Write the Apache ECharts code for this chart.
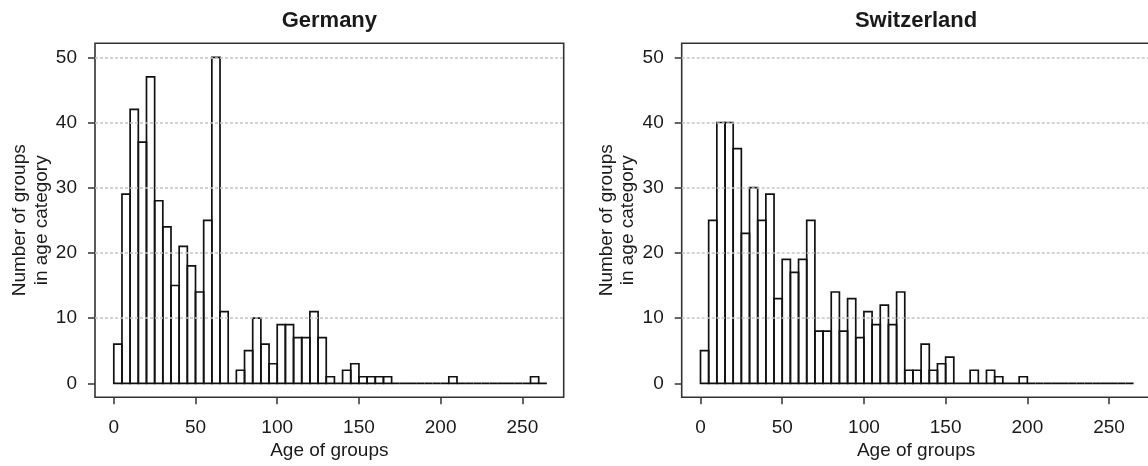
<!DOCTYPE html>
<html>
<head>
<meta charset="utf-8">
<title>Age of groups – Germany and Switzerland</title>
<script src="https://cdn.jsdelivr.net/npm/echarts@6/dist/echarts.min.js"></script>
<style>
  html, body { margin: 0; padding: 0; background: #ffffff; }
  #chart { width: 1148px; height: 466px; }
</style>
</head>
<body>
<div id="chart"></div>
<script>
// Histogram bins: each bin covers [start, start + 5) years
const binStarts = [
  0, 5, 10, 15, 20, 25, 30, 35, 40, 45, 50, 55, 60, 65, 70, 75, 80, 85, 90, 95,
  100, 105, 110, 115, 120, 125, 130, 135, 140, 145, 150, 155, 160, 165, 170, 175,
  180, 185, 190, 195, 200, 205, 210, 215, 220, 225, 230, 235, 240, 245, 250, 255, 260
];
const binWidth = 5;

// Number of groups in each age bin
const germanyCounts = [
  6, 29, 42, 37, 47, 28, 24, 15, 21, 18, 14, 25, 50, 11, 0, 2, 5, 10, 6, 3,
  9, 9, 7, 7, 11, 7, 1, 0, 2, 3, 1, 1, 1, 1, 0, 0,
  0, 0, 0, 0, 0, 1, 0, 0, 0, 0, 0, 0, 0, 0, 0, 1, 0
];
const switzerlandCounts = [
  5, 25, 40, 40, 36, 23, 30, 25, 29, 13, 19, 17, 19, 25, 8, 8, 14, 8, 13, 7,
  11, 9, 12, 9, 14, 2, 2, 6, 2, 3, 4, 0, 0, 2, 0, 2,
  1, 0, 0, 1, 0, 0, 0, 0, 0, 0, 0, 0, 0, 0, 0, 0, 0
];

// Axis tick labels
const xTicks = [0, 50, 100, 150, 200, 250];
const yTicks = [0, 10, 20, 30, 40, 50];
const gridLevels = [10, 20, 30, 40, 50];

const panelTitles = ['Germany', 'Switzerland'];
const xAxisTitle = 'Age of groups';
const yAxisTitle = ['Number of groups', 'in age category'];

const FONT = "'Liberation Sans', Arial, sans-serif";
const TEXT = '#1a1a1a';
const FRAME = '#333333';

const panels = [
  { left: 95, counts: germanyCounts },
  { left: 681.7, counts: switzerlandCounts }
];
const plotTop = 43.3;
const plotWidth = 468.7;
const plotHeight = 354;

function histData(counts) {
  return binStarts.map((s, i) => [s, s + binWidth, counts[i]]);
}

function renderBin(params, api) {
  const start = api.value(0);
  const end = api.value(1);
  const count = api.value(2);
  const topLeft = api.coord([start, count]);
  const bottomRight = api.coord([end, 0]);
  return {
    type: 'rect',
    shape: {
      x: topLeft[0],
      y: topLeft[1],
      width: bottomRight[0] - topLeft[0],
      height: bottomRight[1] - topLeft[1]
    },
    style: { fill: 'rgba(0,0,0,0)', stroke: '#111111', lineWidth: 1.7 }
  };
}

const grids = panels.map(p => ({
  left: p.left,
  top: plotTop,
  width: plotWidth,
  height: plotHeight,
  show: true,
  borderColor: FRAME,
  borderWidth: 1.6,
  backgroundColor: 'transparent',
  containLabel: false,
  outerBoundsMode: 'none'
}));

const xAxes = panels.map((p, i) => ({
  type: 'value',
  gridIndex: i,
  position: 'bottom',
  min: -11.5,
  max: 275.3,
  axisLine: { show: false, onZero: false },
  splitLine: { show: false },
  axisTick: {
    show: true, inside: false, customValues: xTicks, length: 7,
    lineStyle: { color: FRAME, width: 1.5 }
  },
  axisLabel: {
    show: true, customValues: xTicks, margin: 21,
    fontSize: 19, fontFamily: FONT, color: TEXT
  }
}));

const yAxes = panels.map((p, i) => ({
  type: 'value',
  gridIndex: i,
  position: 'left',
  min: -2.15,
  max: 52.15,
  axisLine: { show: false, onZero: false },
  splitLine: { show: false },
  axisTick: {
    show: true, inside: false, customValues: yTicks, length: 7,
    lineStyle: { color: FRAME, width: 1.5 }
  },
  axisLabel: {
    show: true, customValues: yTicks, margin: 18,
    fontSize: 19, fontFamily: FONT, color: TEXT
  }
}));

const series = panels.map((p, i) => ({
  type: 'custom',
  xAxisIndex: i,
  yAxisIndex: i,
  data: histData(p.counts),
  encode: { x: [0, 1], y: 2 },
  renderItem: renderBin,
  silent: true,
  z: 2,
  markLine: {
    silent: true,
    symbol: 'none',
    label: { show: false },
    lineStyle: { color: '#c4c4c4', width: 1.5, type: [3, 2] },
    data: gridLevels.map(v => ({ yAxis: v }))
  }
}));

// Panel titles and axis titles as text elements
const graphics = [];
panels.forEach((p, i) => {
  const cx = p.left + plotWidth / 2;
  const cy = plotTop + plotHeight / 2;
  graphics.push({
    type: 'text', x: cx, y: 21,
    style: { text: panelTitles[i], font: "bold 22px " + FONT, fill: TEXT,
             textAlign: 'center', textVerticalAlign: 'middle' }
  });
  graphics.push({
    type: 'text', x: cx, y: 451,
    style: { text: xAxisTitle, font: "19px " + FONT, fill: TEXT,
             textAlign: 'center', textVerticalAlign: 'middle' }
  });
  graphics.push({
    type: 'text', x: p.left - 75, y: cy, rotation: Math.PI / 2,
    style: { text: yAxisTitle[0], font: "19px " + FONT, fill: TEXT,
             textAlign: 'center', textVerticalAlign: 'middle' }
  });
  graphics.push({
    type: 'text', x: p.left - 53.5, y: cy, rotation: Math.PI / 2,
    style: { text: yAxisTitle[1], font: "19px " + FONT, fill: TEXT,
             textAlign: 'center', textVerticalAlign: 'middle' }
  });
});

const chart = echarts.init(document.getElementById('chart'), null, { renderer: 'canvas' });
chart.setOption({
  animation: false,
  backgroundColor: '#ffffff',
  grid: grids,
  xAxis: xAxes,
  yAxis: yAxes,
  series: series,
  graphic: graphics
});
</script>
</body>
</html>
